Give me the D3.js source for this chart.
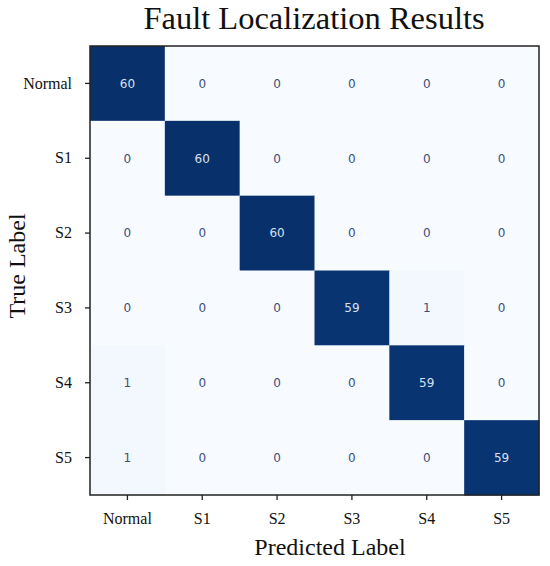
<!DOCTYPE html>
<html>
<head>
<meta charset="utf-8">
<script src="https://cdn.jsdelivr.net/npm/d3@7"></script>
<style>
  body { margin: 0; background: #fff; }
  svg text.serif { font-family: "Liberation Serif", "Times New Roman", serif; fill: #111; }
</style>
</head>
<body>
<div id="chart"></div>
<script>
const width = 550;
const height = 566;

// confusion matrix values (rows = true label, cols = predicted label)
const labels = ["Normal", "S1", "S2", "S3", "S4", "S5"];
const rowNormal = [60, 0, 0, 0, 0, 0];
const rowS1 = [0, 60, 0, 0, 0, 0];
const rowS2 = [0, 0, 60, 0, 0, 0];
const rowS3 = [0, 0, 0, 59, 1, 0];
const rowS4 = [1, 0, 0, 0, 59, 0];
const rowS5 = [1, 0, 0, 0, 0, 59];
const matrix = [rowNormal, rowS1, rowS2, rowS3, rowS4, rowS5];

const plotLeft = 90, plotTop = 46, plotSize = 449;

const svg = d3.select("#chart")
    .append("svg")
    .attr("width", width)
    .attr("height", height);

const x = d3.scaleBand().domain(labels).range([plotLeft, plotLeft + plotSize]);
const y = d3.scaleBand().domain(labels).range([plotTop, plotTop + plotSize]);
const color = d3.scaleSequential(d3.interpolateBlues).domain([-0.5, 60]);

const cells = [];
matrix.forEach((row, i) => {
    row.forEach((v, j) => {
        cells.push({ t: labels[i], p: labels[j], v: v });
    });
});

svg.selectAll("rect.cell")
    .data(cells)
    .enter()
    .append("rect")
    .attr("class", "cell")
    .attr("x", d => x(d.p))
    .attr("y", d => y(d.t))
    .attr("width", x.bandwidth() + 0.5)
    .attr("height", y.bandwidth() + 0.5)
    .attr("fill", d => d.v === 0 ? "#f7fbff" : color(d.v));

svg.selectAll("text.val")
    .data(cells)
    .enter()
    .append("text")
    .attr("class", "val")
    .attr("x", d => x(d.p) + x.bandwidth() / 2)
    .attr("y", d => y(d.t) + y.bandwidth() / 2)
    .attr("dy", "0.36em")
    .attr("text-anchor", "middle")
    .style("font-family", "'DejaVu Sans', sans-serif")
    .style("font-size", "12px")
    .attr("fill", d => d.v > 30 ? "#d6e2f3" : "#3a4f7a")
    .text(d => d.v);

// frame
svg.append("rect")
    .attr("x", plotLeft)
    .attr("y", plotTop)
    .attr("width", plotSize)
    .attr("height", plotSize)
    .attr("fill", "none")
    .attr("stroke", "#222")
    .attr("stroke-width", 1.5);

const yAxis = svg.append("g")
    .attr("transform", `translate(${plotLeft},0)`)
    .call(d3.axisLeft(y).tickSize(5).tickPadding(13));
const xAxis = svg.append("g")
    .attr("transform", `translate(0,${plotTop + plotSize})`)
    .call(d3.axisBottom(x).tickSize(5).tickPadding(13));

[yAxis, xAxis].forEach(g => {
    g.select(".domain").remove();
    g.selectAll(".tick line").attr("stroke", "#222").attr("stroke-width", 1.3);
    g.selectAll(".tick text")
        .attr("class", "serif")
        .style("font-size", "16px")
        .attr("fill", "#111");
});

svg.append("text")
    .attr("class", "serif")
    .attr("x", 314)
    .attr("y", 29)
    .attr("text-anchor", "middle")
    .style("font-size", "32.5px")
    .text("Fault Localization Results");

svg.append("text")
    .attr("class", "serif")
    .attr("x", 330)
    .attr("y", 555)
    .attr("text-anchor", "middle")
    .style("font-size", "24px")
    .text("Predicted Label");

svg.append("text")
    .attr("class", "serif")
    .attr("transform", "translate(25,266) rotate(-90)")
    .attr("text-anchor", "middle")
    .style("font-size", "24px")
    .text("True Label");
</script>
</body>
</html>
